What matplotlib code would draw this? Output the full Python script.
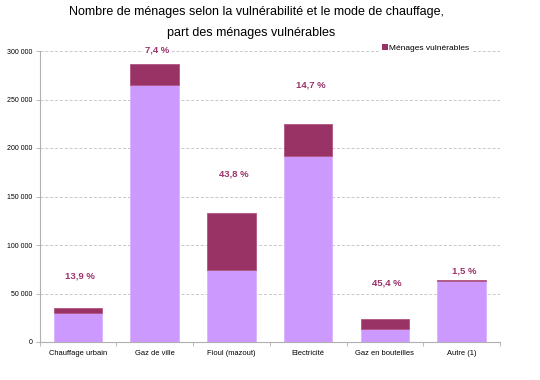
import matplotlib
matplotlib.use("Agg")
import matplotlib.pyplot as plt
from matplotlib.patches import Patch

plt.rcParams['font.family'] = ['Liberation Sans', 'DejaVu Sans']

categories = ["Chauffage urbain", "Gaz de ville", "Fioul (mazout)", "Electricité",
              "Gaz en bouteilles", "Autre (1)"]
non_vulnerables = [29900, 265400, 74600, 191300, 12900, 62600]
vulnerables = [4800, 21200, 58100, 33000, 10800, 1000]
part_labels = ["13,9 %", "7,4 %", "43,8 %", "14,7 %", "45,4 %", "1,5 %"]
label_y = [68000, 301000, 173000, 265000, 61000, 73000]
yticks = [0, 50000, 100000, 150000, 200000, 250000, 300000]
ytick_labels = ["0", "50 000", "100 000", "150 000", "200 000", "250 000", "300 000"]

light = "#CC99FF"
dark = "#993366"

fig = plt.figure(figsize=(5.4, 3.8), dpi=100)
ax = fig.add_axes([39.5/540, 38/380, 460.5/540, 291/380])

x = list(range(len(categories)))
ax.bar(x, non_vulnerables, width=0.63, color=light, edgecolor="#D9B3FF", linewidth=0.6, zorder=3)
ax.bar(x, vulnerables, width=0.63, bottom=non_vulnerables, color=dark, edgecolor="#B0557F",
       linewidth=0.6, zorder=3)

for xi, lab, yy in zip(x, part_labels, label_y):
    ax.text(xi + 0.03, yy, lab, ha="center", va="center", color="#99336B", fontsize=6.8,
            fontweight="bold", zorder=5,
            bbox=dict(facecolor="white", edgecolor="none", pad=1.0) if yy >= 295000 else None)

ax.set_xlim(-0.5, len(categories) - 0.5)
ax.set_ylim(0, 300000)
ax.set_yticks(yticks)
ax.set_yticklabels(ytick_labels, fontsize=5.0)
ax.set_xticks(x)
ax.set_xticklabels(categories, fontsize=5.4)
ax.tick_params(axis="x", length=0, pad=6)
ax.tick_params(axis="y", length=3, width=0.6, color="#B0B0B0", pad=2)
ax.set_xticks([i - 0.5 for i in range(len(categories) + 1)], minor=True)
ax.tick_params(axis="x", which="minor", length=3, width=0.6, color="#B0B0B0")

ax.yaxis.grid(True, linestyle=(0, (3, 2)), color="#C8C8C8", linewidth=0.7, zorder=0)
ax.set_axisbelow(True)
for s in ["top", "right"]:
    ax.spines[s].set_visible(False)
ax.spines["left"].set_color("#B0B0B0")
ax.spines["bottom"].set_color("#B0B0B0")
ax.spines["left"].set_linewidth(0.8)
ax.spines["bottom"].set_linewidth(0.8)

fig.text(256/540, 1 - 12/380, "Nombre de ménages selon la vulnérabilité et le mode de chauffage,",
         ha="center", va="center", fontsize=9.0)
fig.text(251/540, 1 - 33/380, "part des ménages vulnérables", ha="center", va="center", fontsize=9.0)

leg = fig.legend(handles=[Patch(facecolor=dark, edgecolor="none")], labels=["Ménages vulnérables"],
                 loc="center left", bbox_to_anchor=(380/540, 1 - 48/380), fontsize=6,
                 frameon=True, handlelength=0.7, handleheight=0.7, handletextpad=0.2,
                 borderpad=0.2, borderaxespad=0)
leg.get_frame().set_edgecolor("none")
leg.get_frame().set_facecolor("white")
leg.get_frame().set_alpha(1)

fig.savefig("out.png", dpi=100)
